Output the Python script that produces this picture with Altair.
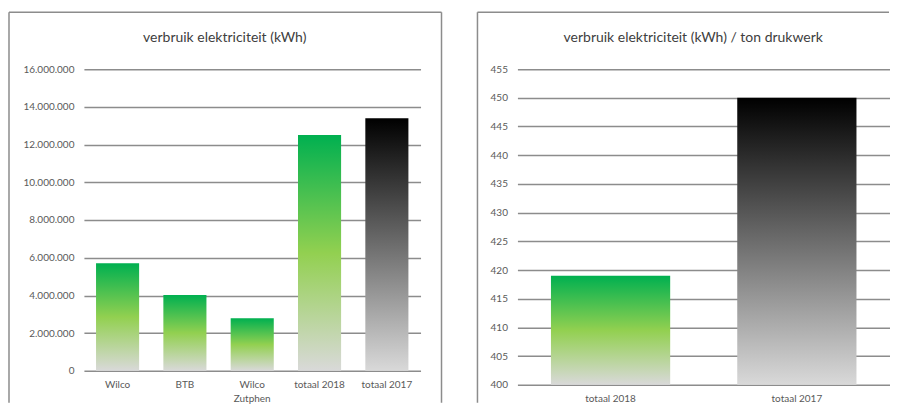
import altair as alt
import pandas as pd

# ---- data ----
cats_left = ["Wilco", "BTB", "Wilco Zutphen", "totaal 2018", "totaal 2017"]
vals_left = [5700000, 4020000, 2790000, 12510000, 13400000]
kind_left = ["g", "g", "g", "g", "k"]
cats_right = ["totaal 2018", "totaal 2017"]
vals_right = [419, 450]
kind_right = ["g", "k"]
title_left = "verbruik elektriciteit (kWh)"
title_right = "verbruik elektriciteit (kWh) / ton drukwerk"
yticks_left = [0, 2000000, 4000000, 6000000, 8000000, 10000000, 12000000, 14000000, 16000000]
yticks_right = [400, 405, 410, 415, 420, 425, 430, 435, 440, 445, 450, 455]

FONT = "Lato"
GRID = "#8c8c8c"
BORDER = "#8c8c8c"
LABEL = "#595959"
TITLE = "#404040"

green = alt.Gradient(
    gradient="linear", x1=0, y1=0, x2=0, y2=1,
    stops=[alt.GradientStop(color="#00b050", offset=0),
           alt.GradientStop(color="#92d050", offset=0.5),
           alt.GradientStop(color="#d9d9d9", offset=1)])
black = alt.Gradient(
    gradient="linear", x1=0, y1=0, x2=0, y2=1,
    stops=[alt.GradientStop(color="#000000", offset=0),
           alt.GradientStop(color="#d9d9d9", offset=1)])

one = pd.DataFrame({"d": [0]})


def panel(cats, vals, kinds, dom, ticks, w, h, ylab_expr, title, left_off,
          right_off, title_x, right_border):
    df = pd.DataFrame({"cat": cats, "val": vals, "kind": kinds})
    x = alt.X("cat:N", scale=alt.Scale(domain=cats, paddingInner=0.36, paddingOuter=0.18),
              axis=alt.Axis(title=None, labelAngle=0, ticks=False, tickSize=0, domain=False,
                            labelPadding=9, labelFont=FONT, labelFontSize=10,
                            labelColor=LABEL, labelLineHeight=14,
                            labelExpr="datum.label == 'Wilco Zutphen' ? ['Wilco', 'Zutphen'] : datum.label"))
    y = alt.Y("val:Q", scale=alt.Scale(domain=dom, zero=False, nice=False),
              axis=alt.Axis(title=None, values=ticks, ticks=False, tickSize=0, domain=False,
                            grid=True, gridColor=GRID, gridWidth=1.5,
                            labelPadding=10, labelFont=FONT, labelFontSize=10,
                            labelColor=LABEL, labelExpr=ylab_expr))
    base = alt.Chart(df)
    g = base.transform_filter("datum.kind == 'g'").mark_bar(color=green).encode(
        x=x, y=y, y2=alt.datum(dom[0]))
    k = base.transform_filter("datum.kind == 'k'").mark_bar(color=black).encode(
        x=x, y=y, y2=alt.datum(dom[0]))
    top, bottom = -57, 334
    rules = [
        alt.Chart(one).mark_rule(color=BORDER, strokeWidth=1.5).encode(
            x=alt.value(-left_off), x2=alt.value(-left_off), y=alt.value(top), y2=alt.value(bottom)),
        alt.Chart(one).mark_rule(color=BORDER, strokeWidth=1.5).encode(
            x=alt.value(-left_off), x2=alt.value(right_off), y=alt.value(top), y2=alt.value(top)),
    ]
    if right_border:
        rules.append(alt.Chart(one).mark_rule(color=BORDER, strokeWidth=1.5).encode(
            x=alt.value(right_off), x2=alt.value(right_off), y=alt.value(top), y2=alt.value(bottom)))
    t = alt.Chart(one).mark_text(text=title, font=FONT, fontSize=14, color=TITLE,
                                 align="center", baseline="middle").encode(
        x=alt.value(title_x), y=alt.value(-31))
    return alt.layer(*rules, t, g, k).properties(width=w, height=h)


left = panel(cats_left, vals_left, kind_left, [0, 16000000], yticks_left, 337, 302,
             "replace(format(datum.value, ','), regexp(',', 'g'), '.')",
             title_left, 75, 358, 141, True)
right = panel(cats_right, vals_right, kind_right, [400, 455], yticks_right, 373, 316,
              "format(datum.value, 'd')",
              title_right, 40, 372, 176, False)

chart = alt.hconcat(left, right, spacing=34).properties(
    padding={"top": 3, "left": 0, "right": 0, "bottom": 0}, background="white"
).configure_view(stroke=None)

chart.save("out.html", embed_options={"renderer": "svg", "actions": False})
